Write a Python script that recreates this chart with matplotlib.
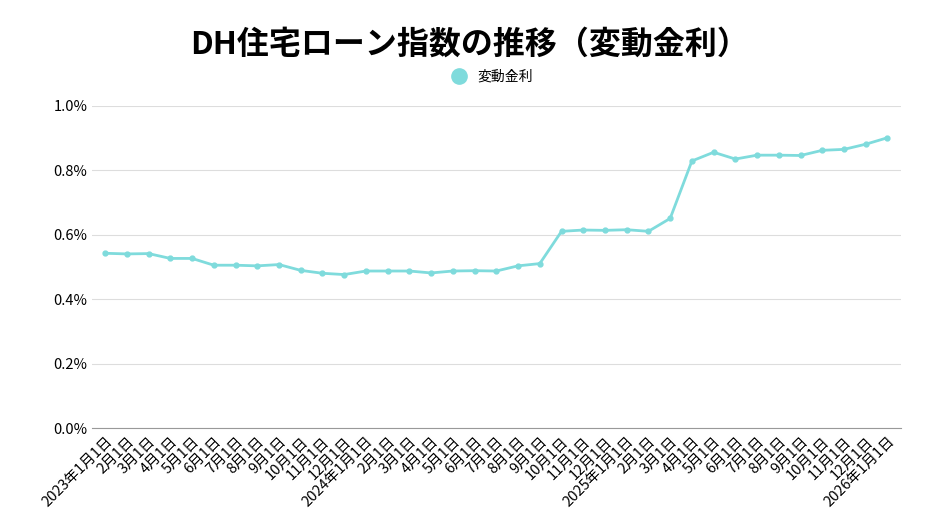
import matplotlib.pyplot as plt
from matplotlib.ticker import FuncFormatter

plt.rcParams['font.family'] = ['Noto Sans CJK JP', 'DejaVu Sans']

labels = []
for y, m in [(2023, i) for i in range(1, 13)] + [(2024, i) for i in range(1, 13)] + [(2025, i) for i in range(1, 13)] + [(2026, 1)]:
    labels.append(f"{y}年{m}月1日" if m == 1 else f"{m}月1日")

rates = [0.543, 0.541, 0.542, 0.527, 0.527, 0.506, 0.506, 0.504, 0.508, 0.490,
         0.481, 0.477, 0.488, 0.488, 0.488, 0.482, 0.488, 0.489, 0.488, 0.504,
         0.511, 0.611, 0.615, 0.614, 0.616, 0.611, 0.651, 0.829, 0.856, 0.835,
         0.847, 0.847, 0.846, 0.862, 0.865, 0.881, 0.901]

color = '#7fdbdc'
fig = plt.figure(figsize=(9.4, 5.29), dpi=100)
ax = fig.add_axes([0.098, 0.19, 0.86, 0.61])
x = range(len(rates))
ax.plot(x, rates, color=color, lw=2, marker='o', ms=3.5, label='変動金利')
ax.set_ylim(0, 1.0)
ax.set_yticks([0, 0.2, 0.4, 0.6, 0.8, 1.0])
ax.yaxis.set_major_formatter(FuncFormatter(lambda v, p: f"{v:.1f}%"))
ax.set_xlim(-0.6, len(rates) - 0.4)
ax.set_xticks(list(x))
ax.set_xticklabels(labels, rotation=45, ha='right', rotation_mode='anchor', fontsize=10.5)
ax.tick_params(axis='y', labelsize=10.5, length=0)
ax.tick_params(axis='x', length=0, pad=4)
ax.grid(axis='y', color='#dddddd', lw=0.8)
for s in ['top', 'right', 'left']:
    ax.spines[s].set_visible(False)
ax.spines['bottom'].set_color('#999999')
ax.set_axisbelow(True)

fig.text(0.5, 0.915, 'DH住宅ローン指数の推移（変動金利）', ha='center', va='center',
         fontsize=23, fontweight='bold')
leg = fig.legend(handles=[plt.Line2D([], [], color=color, marker='o', ls='', ms=11)],
                 labels=['変動金利'], loc='center', bbox_to_anchor=(0.52, 0.855),
                 frameon=False, fontsize=10, handletextpad=0.3)
fig.savefig('out.png', dpi=100, facecolor='white')
